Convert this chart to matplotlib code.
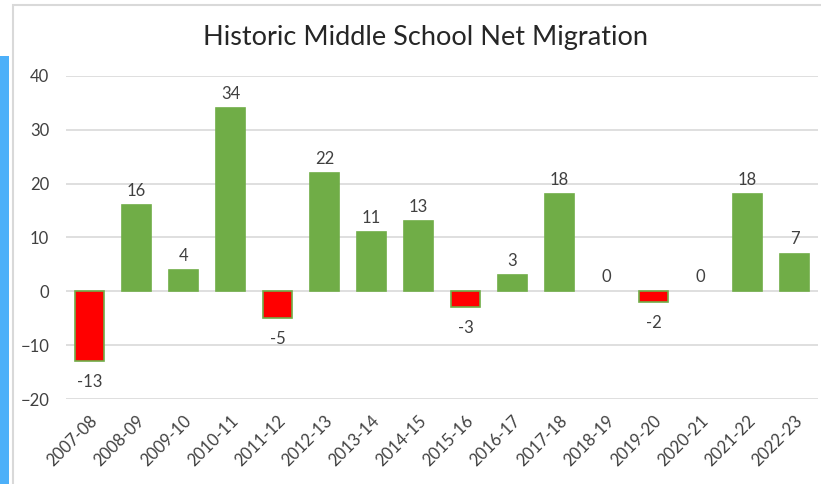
import matplotlib
matplotlib.use("Agg")
import matplotlib.pyplot as plt
from matplotlib.patches import Rectangle

categories = ["2007-08", "2008-09", "2009-10", "2010-11", "2011-12", "2012-13", "2013-14",
              "2014-15", "2015-16", "2016-17", "2017-18", "2018-19", "2019-20", "2020-21",
              "2021-22", "2022-23"]
values = [-13, 16, 4, 34, -5, 22, 11, 13, -3, 3, 18, 0, -2, 0, 18, 7]
yticks = [-20, -10, 0, 10, 20, 30, 40]
title = "Historic Middle School Net Migration"

green = "#70AD47"
red = "#FF0000"
text_col = "#404040"
plt.rcParams['font.family'] = ['Lato', 'DejaVu Sans']

fig = plt.figure(figsize=(8.21, 4.84), dpi=100)
W, H = 821, 484
# chart border and blue side bar
fig.patches.append(Rectangle((13 / W, -0.05), (W + 20) / W, (H - 5) / H + 0.05, transform=fig.transFigure,
                             facecolor="white", edgecolor="#D9D9D9", linewidth=1.5, zorder=-10))
fig.patches.append(Rectangle((0, 0), 9 / W, (H - 56) / H, transform=fig.transFigure,
                             facecolor="#4DB0F9", edgecolor="none", zorder=-9))

ax = fig.add_axes([66 / W, (H - 399) / H, (818 - 66) / W, (399 - 76) / H])
ax.set_facecolor("none")
ax.set_zorder(5)
x = list(range(len(categories)))
colors = [green if v >= 0 else red for v in values]
lws = [1.2 if v != 0 else 0 for v in values]
ax.bar(x, values, width=0.62, color=colors, edgecolor=green, linewidth=lws, zorder=3)

for xi, v in zip(x, values):
    if v >= 0:
        ax.annotate(str(v), (xi, v), xytext=(0, 4.5), textcoords="offset points",
                    ha="center", va="bottom", fontsize=12, color=text_col)
    else:
        ax.annotate(str(v), (xi, v), xytext=(0, -9), textcoords="offset points",
                    ha="center", va="top", fontsize=12, color=text_col)

ax.set_xlim(-0.5, len(categories) - 0.5)
ax.set_ylim(-20, 40)
ax.set_yticks(yticks)
ax.set_xticks(x)
ax.set_xticklabels(categories, rotation=45, ha="right", rotation_mode="anchor",
                   fontsize=12, color=text_col)
ax.tick_params(axis="y", labelsize=12, labelcolor=text_col, length=0, pad=12)
ax.tick_params(axis="x", length=0, pad=10)
ax.grid(axis="y", color="#D9D9D9", linewidth=1.2, zorder=0)
ax.set_axisbelow(True)
for s in ax.spines.values():
    s.set_visible(False)

fig.text(425 / W, 1 - 37 / H, title, ha="center", va="center", fontsize=19.5, color="#262626")

fig.savefig("out.png", dpi=100)
